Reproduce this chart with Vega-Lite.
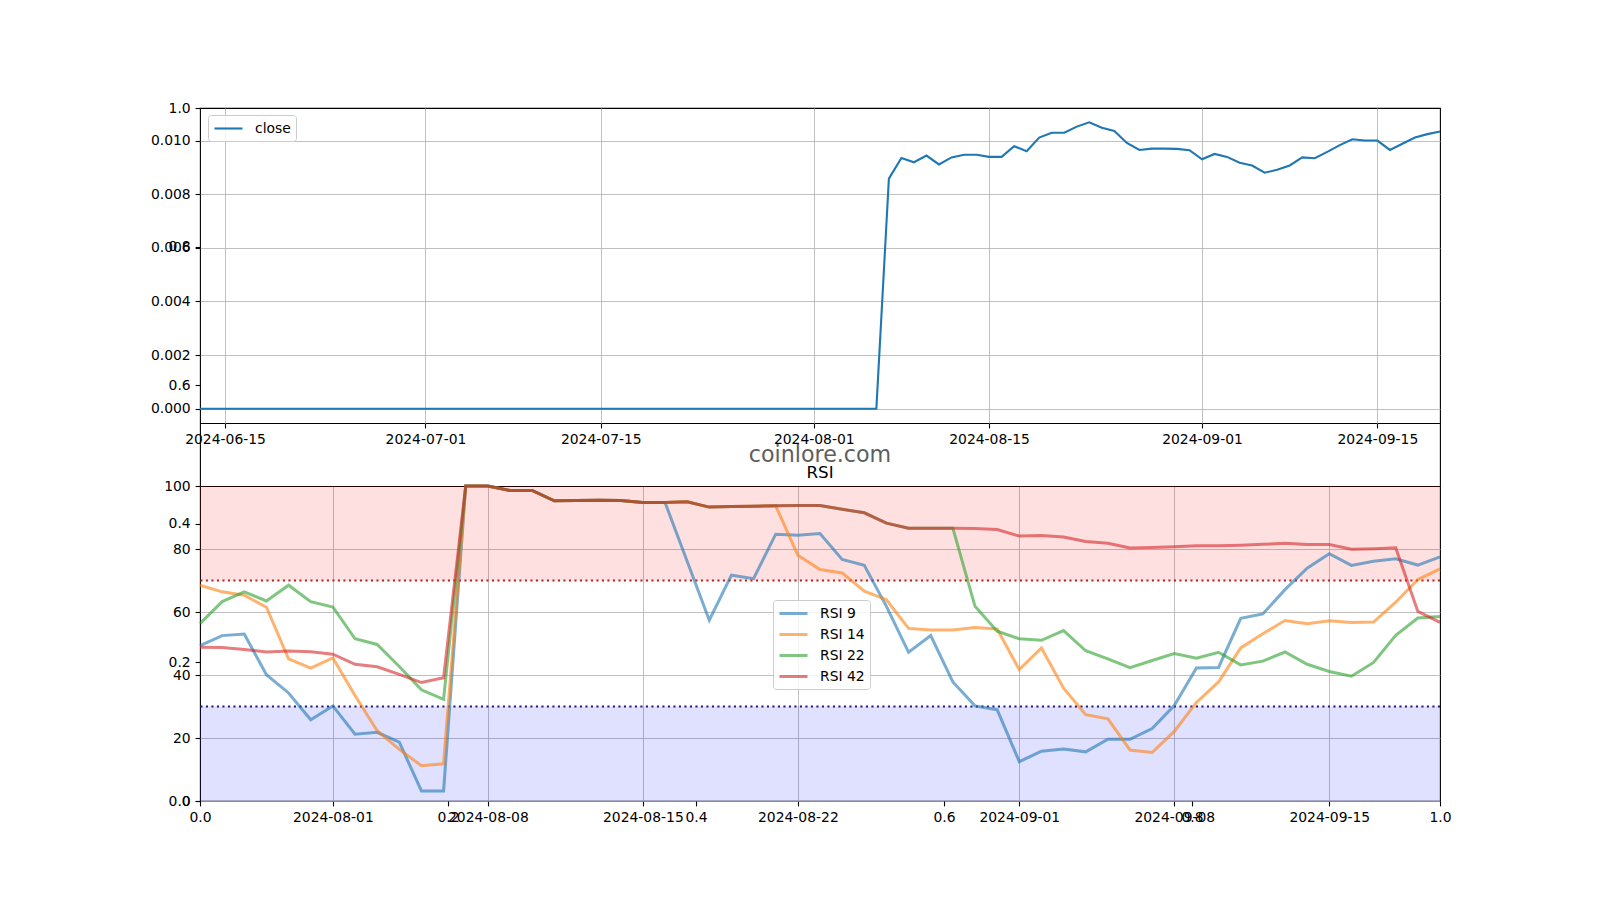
{
  "$schema": "https://vega.github.io/schema/vega-lite/v6.json",
  "width": 1240,
  "height": 693,
  "autosize": {"type": "none"},
  "padding": {"left": 200, "top": 108, "right": 160, "bottom": 99},
  "background": "white",
  "config": {
    "font": "DejaVu Sans",
    "view": {"stroke": "black", "strokeWidth": 1.1},
    "axis": {
      "labelFont": "DejaVu Sans", "labelFontSize": 13.9, "labelColor": "black",
      "tickColor": "black", "tickWidth": 1.1, "tickSize": 4.9, "labelPadding": 4.9,
      "gridColor": "#b0b0b0", "gridWidth": 0.8, "gridOpacity": 1,
      "domainColor": "black", "domainWidth": 1.1,
      "labelOverlap": false, "labelFlush": false, "labelBound": false, "title": null
    },
    "legend": {"labelFont": "DejaVu Sans", "labelFontSize": 13.9, "labelColor": "black"}
  },
  "datasets": {
    "close": [
      {"d":"2024-06-13","v":0},{"d":"2024-06-14","v":0},{"d":"2024-06-15","v":0},{"d":"2024-06-16","v":0},{"d":"2024-06-17","v":0},{"d":"2024-06-18","v":0},{"d":"2024-06-19","v":0},{"d":"2024-06-20","v":0},{"d":"2024-06-21","v":0},{"d":"2024-06-22","v":0},{"d":"2024-06-23","v":0},{"d":"2024-06-24","v":0},{"d":"2024-06-25","v":0},{"d":"2024-06-26","v":0},{"d":"2024-06-27","v":0},{"d":"2024-06-28","v":0},{"d":"2024-06-29","v":0},{"d":"2024-06-30","v":0},
      {"d":"2024-07-01","v":0},{"d":"2024-07-02","v":0},{"d":"2024-07-03","v":0},{"d":"2024-07-04","v":0},{"d":"2024-07-05","v":0},{"d":"2024-07-06","v":0},{"d":"2024-07-07","v":0},{"d":"2024-07-08","v":0},{"d":"2024-07-09","v":0},{"d":"2024-07-10","v":0},{"d":"2024-07-11","v":0},{"d":"2024-07-12","v":0},{"d":"2024-07-13","v":0},{"d":"2024-07-14","v":0},{"d":"2024-07-15","v":0},{"d":"2024-07-16","v":0},{"d":"2024-07-17","v":0},{"d":"2024-07-18","v":0},{"d":"2024-07-19","v":0},{"d":"2024-07-20","v":0},{"d":"2024-07-21","v":0},{"d":"2024-07-22","v":0},{"d":"2024-07-23","v":0},{"d":"2024-07-24","v":0},{"d":"2024-07-25","v":0},{"d":"2024-07-26","v":0},{"d":"2024-07-27","v":0},{"d":"2024-07-28","v":0},{"d":"2024-07-29","v":0},{"d":"2024-07-30","v":0},{"d":"2024-07-31","v":0},
      {"d":"2024-08-01","v":0},{"d":"2024-08-02","v":0},{"d":"2024-08-03","v":0},{"d":"2024-08-04","v":0},{"d":"2024-08-05","v":0},{"d":"2024-08-06","v":0},
      {"d":"2024-08-07","v":0.00858},{"d":"2024-08-08","v":0.00935},{"d":"2024-08-09","v":0.00919},{"d":"2024-08-10","v":0.00944},{"d":"2024-08-11","v":0.00911},{"d":"2024-08-12","v":0.00937},{"d":"2024-08-13","v":0.00947},{"d":"2024-08-14","v":0.00947},{"d":"2024-08-15","v":0.00939},{"d":"2024-08-16","v":0.00939},{"d":"2024-08-17","v":0.00979},{"d":"2024-08-18","v":0.0096},{"d":"2024-08-19","v":0.01011},{"d":"2024-08-20","v":0.01029},{"d":"2024-08-21","v":0.01029},{"d":"2024-08-22","v":0.01052},{"d":"2024-08-23","v":0.01068},{"d":"2024-08-24","v":0.01048},{"d":"2024-08-25","v":0.01036},{"d":"2024-08-26","v":0.00991},{"d":"2024-08-27","v":0.00965},{"d":"2024-08-28","v":0.0097},{"d":"2024-08-29","v":0.0097},{"d":"2024-08-30","v":0.00969},{"d":"2024-08-31","v":0.00964},
      {"d":"2024-09-01","v":0.0093},{"d":"2024-09-02","v":0.0095},{"d":"2024-09-03","v":0.00939},{"d":"2024-09-04","v":0.00917},{"d":"2024-09-05","v":0.00907},{"d":"2024-09-06","v":0.0088},{"d":"2024-09-07","v":0.00891},{"d":"2024-09-08","v":0.00907},{"d":"2024-09-09","v":0.00937},{"d":"2024-09-10","v":0.00934},{"d":"2024-09-11","v":0.00958},{"d":"2024-09-12","v":0.00983},{"d":"2024-09-13","v":0.01005},{"d":"2024-09-14","v":0.01},{"d":"2024-09-15","v":0.01},{"d":"2024-09-16","v":0.00965},{"d":"2024-09-17","v":0.00988},{"d":"2024-09-18","v":0.01011},{"d":"2024-09-19","v":0.01024},{"d":"2024-09-20","v":0.01034}
    ],
    "rsi": [
      {"d":"2024-07-26","s":"RSI 9","v":49.3},{"d":"2024-07-27","s":"RSI 9","v":52.5},{"d":"2024-07-28","s":"RSI 9","v":53.0},{"d":"2024-07-29","s":"RSI 9","v":40.1},{"d":"2024-07-30","s":"RSI 9","v":34.3},{"d":"2024-07-31","s":"RSI 9","v":25.8},{"d":"2024-08-01","s":"RSI 9","v":30.2},{"d":"2024-08-02","s":"RSI 9","v":21.2},{"d":"2024-08-03","s":"RSI 9","v":21.8},{"d":"2024-08-04","s":"RSI 9","v":18.7},{"d":"2024-08-05","s":"RSI 9","v":3.2},{"d":"2024-08-06","s":"RSI 9","v":3.2},{"d":"2024-08-07","s":"RSI 9","v":100},{"d":"2024-08-08","s":"RSI 9","v":100},{"d":"2024-08-09","s":"RSI 9","v":98.6},{"d":"2024-08-10","s":"RSI 9","v":98.6},{"d":"2024-08-11","s":"RSI 9","v":95.3},{"d":"2024-08-12","s":"RSI 9","v":95.4},{"d":"2024-08-13","s":"RSI 9","v":95.5},{"d":"2024-08-14","s":"RSI 9","v":95.4},{"d":"2024-08-15","s":"RSI 9","v":94.8},{"d":"2024-08-16","s":"RSI 9","v":94.8},{"d":"2024-08-17","s":"RSI 9","v":76.1},{"d":"2024-08-18","s":"RSI 9","v":57.4},{"d":"2024-08-19","s":"RSI 9","v":71.7},{"d":"2024-08-20","s":"RSI 9","v":70.6},{"d":"2024-08-21","s":"RSI 9","v":84.7},{"d":"2024-08-22","s":"RSI 9","v":84.4},{"d":"2024-08-23","s":"RSI 9","v":84.9},{"d":"2024-08-24","s":"RSI 9","v":76.7},{"d":"2024-08-25","s":"RSI 9","v":74.8},{"d":"2024-08-26","s":"RSI 9","v":61.8},{"d":"2024-08-27","s":"RSI 9","v":47.2},{"d":"2024-08-28","s":"RSI 9","v":52.5},{"d":"2024-08-29","s":"RSI 9","v":37.8},{"d":"2024-08-30","s":"RSI 9","v":30.2},{"d":"2024-08-31","s":"RSI 9","v":29.0},{"d":"2024-09-01","s":"RSI 9","v":12.5},{"d":"2024-09-02","s":"RSI 9","v":15.8},{"d":"2024-09-03","s":"RSI 9","v":16.5},{"d":"2024-09-04","s":"RSI 9","v":15.6},{"d":"2024-09-05","s":"RSI 9","v":19.6},{"d":"2024-09-06","s":"RSI 9","v":19.6},{"d":"2024-09-07","s":"RSI 9","v":23.0},{"d":"2024-09-08","s":"RSI 9","v":30.3},{"d":"2024-09-09","s":"RSI 9","v":42.2},{"d":"2024-09-10","s":"RSI 9","v":42.4},{"d":"2024-09-11","s":"RSI 9","v":58.0},{"d":"2024-09-12","s":"RSI 9","v":59.4},{"d":"2024-09-13","s":"RSI 9","v":67.1},{"d":"2024-09-14","s":"RSI 9","v":73.9},{"d":"2024-09-15","s":"RSI 9","v":78.5},{"d":"2024-09-16","s":"RSI 9","v":74.8},{"d":"2024-09-17","s":"RSI 9","v":76.1},{"d":"2024-09-18","s":"RSI 9","v":76.9},{"d":"2024-09-19","s":"RSI 9","v":74.9},{"d":"2024-09-20","s":"RSI 9","v":77.5},
      {"d":"2024-07-26","s":"RSI 14","v":68.5},{"d":"2024-07-27","s":"RSI 14","v":66.4},{"d":"2024-07-28","s":"RSI 14","v":65.3},{"d":"2024-07-29","s":"RSI 14","v":61.5},{"d":"2024-07-30","s":"RSI 14","v":45.1},{"d":"2024-07-31","s":"RSI 14","v":42.2},{"d":"2024-08-01","s":"RSI 14","v":45.4},{"d":"2024-08-02","s":"RSI 14","v":33.5},{"d":"2024-08-03","s":"RSI 14","v":22.3},{"d":"2024-08-04","s":"RSI 14","v":16.4},{"d":"2024-08-05","s":"RSI 14","v":11.2},{"d":"2024-08-06","s":"RSI 14","v":11.8},{"d":"2024-08-07","s":"RSI 14","v":100},{"d":"2024-08-08","s":"RSI 14","v":100},{"d":"2024-08-09","s":"RSI 14","v":98.6},{"d":"2024-08-10","s":"RSI 14","v":98.6},{"d":"2024-08-11","s":"RSI 14","v":95.3},{"d":"2024-08-12","s":"RSI 14","v":95.4},{"d":"2024-08-13","s":"RSI 14","v":95.5},{"d":"2024-08-14","s":"RSI 14","v":95.4},{"d":"2024-08-15","s":"RSI 14","v":94.8},{"d":"2024-08-16","s":"RSI 14","v":94.8},{"d":"2024-08-17","s":"RSI 14","v":95.0},{"d":"2024-08-18","s":"RSI 14","v":93.3},{"d":"2024-08-19","s":"RSI 14","v":93.5},{"d":"2024-08-20","s":"RSI 14","v":93.6},{"d":"2024-08-21","s":"RSI 14","v":93.7},{"d":"2024-08-22","s":"RSI 14","v":78.0},{"d":"2024-08-23","s":"RSI 14","v":73.5},{"d":"2024-08-24","s":"RSI 14","v":72.4},{"d":"2024-08-25","s":"RSI 14","v":66.6},{"d":"2024-08-26","s":"RSI 14","v":63.9},{"d":"2024-08-27","s":"RSI 14","v":54.8},{"d":"2024-08-28","s":"RSI 14","v":54.3},{"d":"2024-08-29","s":"RSI 14","v":54.3},{"d":"2024-08-30","s":"RSI 14","v":55.1},{"d":"2024-08-31","s":"RSI 14","v":54.6},{"d":"2024-09-01","s":"RSI 14","v":41.7},{"d":"2024-09-02","s":"RSI 14","v":48.6},{"d":"2024-09-03","s":"RSI 14","v":35.8},{"d":"2024-09-04","s":"RSI 14","v":27.4},{"d":"2024-09-05","s":"RSI 14","v":26.1},{"d":"2024-09-06","s":"RSI 14","v":16.2},{"d":"2024-09-07","s":"RSI 14","v":15.4},{"d":"2024-09-08","s":"RSI 14","v":22.1},{"d":"2024-09-09","s":"RSI 14","v":31.3},{"d":"2024-09-10","s":"RSI 14","v":37.8},{"d":"2024-09-11","s":"RSI 14","v":48.6},{"d":"2024-09-12","s":"RSI 14","v":53.1},{"d":"2024-09-13","s":"RSI 14","v":57.3},{"d":"2024-09-14","s":"RSI 14","v":56.3},{"d":"2024-09-15","s":"RSI 14","v":57.2},{"d":"2024-09-16","s":"RSI 14","v":56.7},{"d":"2024-09-17","s":"RSI 14","v":56.8},{"d":"2024-09-18","s":"RSI 14","v":63.1},{"d":"2024-09-19","s":"RSI 14","v":70.3},{"d":"2024-09-20","s":"RSI 14","v":73.7},
      {"d":"2024-07-26","s":"RSI 22","v":56.3},{"d":"2024-07-27","s":"RSI 22","v":63.3},{"d":"2024-07-28","s":"RSI 22","v":66.4},{"d":"2024-07-29","s":"RSI 22","v":63.5},{"d":"2024-07-30","s":"RSI 22","v":68.5},{"d":"2024-07-31","s":"RSI 22","v":63.3},{"d":"2024-08-01","s":"RSI 22","v":61.6},{"d":"2024-08-02","s":"RSI 22","v":51.5},{"d":"2024-08-03","s":"RSI 22","v":49.7},{"d":"2024-08-04","s":"RSI 22","v":42.7},{"d":"2024-08-05","s":"RSI 22","v":35.3},{"d":"2024-08-06","s":"RSI 22","v":32.3},{"d":"2024-08-07","s":"RSI 22","v":100},{"d":"2024-08-08","s":"RSI 22","v":100},{"d":"2024-08-09","s":"RSI 22","v":98.6},{"d":"2024-08-10","s":"RSI 22","v":98.6},{"d":"2024-08-11","s":"RSI 22","v":95.3},{"d":"2024-08-12","s":"RSI 22","v":95.4},{"d":"2024-08-13","s":"RSI 22","v":95.5},{"d":"2024-08-14","s":"RSI 22","v":95.4},{"d":"2024-08-15","s":"RSI 22","v":94.8},{"d":"2024-08-16","s":"RSI 22","v":94.8},{"d":"2024-08-17","s":"RSI 22","v":95.0},{"d":"2024-08-18","s":"RSI 22","v":93.3},{"d":"2024-08-19","s":"RSI 22","v":93.5},{"d":"2024-08-20","s":"RSI 22","v":93.6},{"d":"2024-08-21","s":"RSI 22","v":93.7},{"d":"2024-08-22","s":"RSI 22","v":93.8},{"d":"2024-08-23","s":"RSI 22","v":93.8},{"d":"2024-08-24","s":"RSI 22","v":92.6},{"d":"2024-08-25","s":"RSI 22","v":91.5},{"d":"2024-08-26","s":"RSI 22","v":88.2},{"d":"2024-08-27","s":"RSI 22","v":86.6},{"d":"2024-08-28","s":"RSI 22","v":86.6},{"d":"2024-08-29","s":"RSI 22","v":86.6},{"d":"2024-08-30","s":"RSI 22","v":61.8},{"d":"2024-08-31","s":"RSI 22","v":53.9},{"d":"2024-09-01","s":"RSI 22","v":51.5},{"d":"2024-09-02","s":"RSI 22","v":51.0},{"d":"2024-09-03","s":"RSI 22","v":54.1},{"d":"2024-09-04","s":"RSI 22","v":47.7},{"d":"2024-09-05","s":"RSI 22","v":45.1},{"d":"2024-09-06","s":"RSI 22","v":42.3},{"d":"2024-09-07","s":"RSI 22","v":44.6},{"d":"2024-09-08","s":"RSI 22","v":46.8},{"d":"2024-09-09","s":"RSI 22","v":45.3},{"d":"2024-09-10","s":"RSI 22","v":47.2},{"d":"2024-09-11","s":"RSI 22","v":43.2},{"d":"2024-09-12","s":"RSI 22","v":44.4},{"d":"2024-09-13","s":"RSI 22","v":47.3},{"d":"2024-09-14","s":"RSI 22","v":43.4},{"d":"2024-09-15","s":"RSI 22","v":41.1},{"d":"2024-09-16","s":"RSI 22","v":39.6},{"d":"2024-09-17","s":"RSI 22","v":44.0},{"d":"2024-09-18","s":"RSI 22","v":52.6},{"d":"2024-09-19","s":"RSI 22","v":58.1},{"d":"2024-09-20","s":"RSI 22","v":58.6},
      {"d":"2024-07-26","s":"RSI 42","v":48.8},{"d":"2024-07-27","s":"RSI 42","v":48.7},{"d":"2024-07-28","s":"RSI 42","v":48.1},{"d":"2024-07-29","s":"RSI 42","v":47.3},{"d":"2024-07-30","s":"RSI 42","v":47.6},{"d":"2024-07-31","s":"RSI 42","v":47.4},{"d":"2024-08-01","s":"RSI 42","v":46.6},{"d":"2024-08-02","s":"RSI 42","v":43.4},{"d":"2024-08-03","s":"RSI 42","v":42.6},{"d":"2024-08-04","s":"RSI 42","v":40.2},{"d":"2024-08-05","s":"RSI 42","v":37.6},{"d":"2024-08-06","s":"RSI 42","v":39.1},{"d":"2024-08-07","s":"RSI 42","v":100},{"d":"2024-08-08","s":"RSI 42","v":100},{"d":"2024-08-09","s":"RSI 42","v":98.6},{"d":"2024-08-10","s":"RSI 42","v":98.6},{"d":"2024-08-11","s":"RSI 42","v":95.3},{"d":"2024-08-12","s":"RSI 42","v":95.4},{"d":"2024-08-13","s":"RSI 42","v":95.5},{"d":"2024-08-14","s":"RSI 42","v":95.4},{"d":"2024-08-15","s":"RSI 42","v":94.8},{"d":"2024-08-16","s":"RSI 42","v":94.8},{"d":"2024-08-17","s":"RSI 42","v":95.0},{"d":"2024-08-18","s":"RSI 42","v":93.3},{"d":"2024-08-19","s":"RSI 42","v":93.5},{"d":"2024-08-20","s":"RSI 42","v":93.6},{"d":"2024-08-21","s":"RSI 42","v":93.7},{"d":"2024-08-22","s":"RSI 42","v":93.8},{"d":"2024-08-23","s":"RSI 42","v":93.8},{"d":"2024-08-24","s":"RSI 42","v":92.6},{"d":"2024-08-25","s":"RSI 42","v":91.5},{"d":"2024-08-26","s":"RSI 42","v":88.2},{"d":"2024-08-27","s":"RSI 42","v":86.6},{"d":"2024-08-28","s":"RSI 42","v":86.6},{"d":"2024-08-29","s":"RSI 42","v":86.6},{"d":"2024-08-30","s":"RSI 42","v":86.5},{"d":"2024-08-31","s":"RSI 42","v":86.2},{"d":"2024-09-01","s":"RSI 42","v":84.1},{"d":"2024-09-02","s":"RSI 42","v":84.3},{"d":"2024-09-03","s":"RSI 42","v":83.8},{"d":"2024-09-04","s":"RSI 42","v":82.4},{"d":"2024-09-05","s":"RSI 42","v":81.8},{"d":"2024-09-06","s":"RSI 42","v":80.3},{"d":"2024-09-07","s":"RSI 42","v":80.5},{"d":"2024-09-08","s":"RSI 42","v":80.7},{"d":"2024-09-09","s":"RSI 42","v":81.0},{"d":"2024-09-10","s":"RSI 42","v":81.0},{"d":"2024-09-11","s":"RSI 42","v":81.2},{"d":"2024-09-12","s":"RSI 42","v":81.5},{"d":"2024-09-13","s":"RSI 42","v":81.8},{"d":"2024-09-14","s":"RSI 42","v":81.4},{"d":"2024-09-15","s":"RSI 42","v":81.4},{"d":"2024-09-16","s":"RSI 42","v":79.9},{"d":"2024-09-17","s":"RSI 42","v":80.1},{"d":"2024-09-18","s":"RSI 42","v":80.4},{"d":"2024-09-19","s":"RSI 42","v":60.2},{"d":"2024-09-20","s":"RSI 42","v":56.7}
    ]
  },
  "layer": [
    {
      "data": {"values": [{}]},
      "layer": [
        {
          "mark": {"type": "point", "opacity": 0},
          "encoding": {
            "x": {"datum": 0, "type": "quantitative", "scale": {"domain": [0, 1], "nice": false, "zero": false},
                  "axis": {"orient": "bottom", "values": [0, 0.2, 0.4, 0.6, 0.8, 1.0], "format": ".1f", "grid": false, "domain": false}},
            "y": {"datum": 0, "type": "quantitative", "scale": {"domain": [0, 1], "nice": false, "zero": false},
                  "axis": {"orient": "left", "values": [0, 0.2, 0.4, 0.6, 0.8, 1.0], "format": ".1f", "grid": false, "domain": false}}
          }
        },
        {
          "mark": {"type": "text", "text": "coinlore.com", "font": "DejaVu Sans", "fontSize": 22.2, "color": "#5e5e5e", "align": "center", "baseline": "middle"},
          "encoding": {"x": {"datum": 0.5, "type": "quantitative"}, "y": {"datum": 0.5, "type": "quantitative"}}
        },
        {
          "mark": {"type": "text", "text": "RSI", "font": "DejaVu Sans", "fontSize": 16.7, "color": "black", "align": "center", "baseline": "alphabetic"},
          "encoding": {"x": {"datum": 0.5, "type": "quantitative"}, "y": {"datum": 0.4665, "type": "quantitative"}}
        }
      ]
    },
    {
      "data": {"name": "close"},
      "mark": {"type": "line", "strokeWidth": 2.1},
      "encoding": {
        "x": {"field": "d", "type": "temporal",
              "scale": {"type": "utc", "domain": [{"year": 2024, "month": 6, "date": 13, "utc": true}, {"year": 2024, "month": 9, "date": 20, "utc": true}], "nice": false},
              "axis": {"orient": "bottom", "offset": -378, "format": "%Y-%m-%d", "grid": false, "domain": true,
                       "values": [{"year": 2024, "month": 6, "date": 15, "utc": true}, {"year": 2024, "month": 7, "date": 1, "utc": true}, {"year": 2024, "month": 7, "date": 15, "utc": true}, {"year": 2024, "month": 8, "date": 1, "utc": true}, {"year": 2024, "month": 8, "date": 15, "utc": true}, {"year": 2024, "month": 9, "date": 1, "utc": true}, {"year": 2024, "month": 9, "date": 15, "utc": true}]}},
        "y": {"field": "v", "type": "quantitative",
              "scale": {"domain": [-0.000534, 0.011214], "range": [315, 0], "nice": false, "zero": false},
              "axis": {"orient": "left", "values": [0, 0.002, 0.004, 0.006, 0.008, 0.01], "format": ".3f", "grid": true, "domain": false}},
        "color": {"datum": "close", "type": "nominal", "scale": {"domain": ["close"], "range": ["#1f77b4"]},
                  "legend": {"title": null, "orient": "none", "legendX": 8, "legendY": 7, "symbolType": "M-1,0H3", "symbolSize": 196, "symbolStrokeWidth": 2.1, "labelOffset": 25, "padding": 5, "strokeColor": "#cccccc", "fillColor": "rgba(255,255,255,0.8)", "cornerRadius": 3}}
      }
    },
    {
      "data": {"values": [{}]},
      "mark": {"type": "rule", "opacity": 0},
      "encoding": {
        "x": {"datum": {"year": 2024, "month": 7, "date": 1, "utc": true}, "type": "temporal",
              "scale": {"type": "utc", "domain": [{"year": 2024, "month": 6, "date": 13, "utc": true}, {"year": 2024, "month": 9, "date": 20, "utc": true}], "nice": false},
              "axis": {"orient": "bottom", "offset": -378, "grid": false, "domain": false, "labels": false, "tickSize": -315, "tickColor": "#b0b0b0", "tickWidth": 0.8,
                       "values": [{"year": 2024, "month": 6, "date": 15, "utc": true}, {"year": 2024, "month": 7, "date": 1, "utc": true}, {"year": 2024, "month": 7, "date": 15, "utc": true}, {"year": 2024, "month": 8, "date": 1, "utc": true}, {"year": 2024, "month": 8, "date": 15, "utc": true}, {"year": 2024, "month": 9, "date": 1, "utc": true}, {"year": 2024, "month": 9, "date": 15, "utc": true}]}}
      }
    },
    {
      "layer": [
        {
          "data": {"values": [{}]},
          "mark": {"type": "rect", "color": "red", "opacity": 0.12},
          "encoding": {
            "y": {"datum": 70, "type": "quantitative", "scale": {"domain": [0, 100], "range": [693, 378], "nice": false, "zero": false},
                  "axis": {"orient": "left", "values": [0, 20, 40, 60, 80, 100], "format": "d", "grid": true, "domain": false}},
            "y2": {"datum": 100}
          }
        },
        {
          "data": {"values": [{}]},
          "mark": {"type": "rect", "color": "blue", "opacity": 0.12},
          "encoding": {"y": {"datum": 0, "type": "quantitative"}, "y2": {"datum": 30}}
        },
        {
          "data": {"values": [{}]},
          "mark": {"type": "rule", "color": "#bb2222", "strokeWidth": 2.1, "strokeDash": [2.1, 3.4]},
          "encoding": {"y": {"datum": 70, "type": "quantitative"}}
        },
        {
          "data": {"values": [{}]},
          "mark": {"type": "rule", "color": "#1c1c80", "strokeWidth": 2.1, "strokeDash": [2.1, 3.4]},
          "encoding": {"y": {"datum": 30, "type": "quantitative"}}
        },
        {
          "data": {"name": "rsi"},
          "mark": {"type": "line", "strokeWidth": 3, "opacity": 0.6},
          "encoding": {
            "x": {"field": "d", "type": "temporal",
                  "scale": {"type": "utc", "domain": [{"year": 2024, "month": 7, "date": 26, "utc": true}, {"year": 2024, "month": 9, "date": 20, "utc": true}], "nice": false},
                  "axis": {"orient": "bottom", "format": "%Y-%m-%d", "grid": false, "domain": false,
                           "values": [{"year": 2024, "month": 8, "date": 1, "utc": true}, {"year": 2024, "month": 8, "date": 8, "utc": true}, {"year": 2024, "month": 8, "date": 15, "utc": true}, {"year": 2024, "month": 8, "date": 22, "utc": true}, {"year": 2024, "month": 9, "date": 1, "utc": true}, {"year": 2024, "month": 9, "date": 8, "utc": true}, {"year": 2024, "month": 9, "date": 15, "utc": true}]}},
            "y": {"field": "v", "type": "quantitative"},
            "color": {"field": "s", "type": "nominal", "sort": ["RSI 9", "RSI 14", "RSI 22", "RSI 42"],
                      "scale": {"domain": ["RSI 9", "RSI 14", "RSI 22", "RSI 42"], "range": ["#1f77b4", "#ff7f0e", "#2ca02c", "#d62728"]},
                      "legend": {"title": null, "orient": "none", "legendX": 573, "legendY": 492, "symbolType": "M-1,0H3", "symbolSize": 196, "symbolStrokeWidth": 3, "labelOffset": 25, "rowPadding": 5, "padding": 5, "strokeColor": "#cccccc", "fillColor": "rgba(255,255,255,0.8)", "cornerRadius": 3}}
          }
        }
      ]
    },
    {
      "data": {"values": [{}]},
      "mark": {"type": "rule", "opacity": 0},
      "encoding": {
        "x": {"datum": {"year": 2024, "month": 8, "date": 1, "utc": true}, "type": "temporal",
              "scale": {"type": "utc", "domain": [{"year": 2024, "month": 7, "date": 26, "utc": true}, {"year": 2024, "month": 9, "date": 20, "utc": true}], "nice": false},
              "axis": {"orient": "top", "offset": -378, "grid": false, "domain": true, "labels": false, "tickSize": -315, "tickColor": "#b0b0b0", "tickWidth": 0.8,
                       "values": [{"year": 2024, "month": 8, "date": 1, "utc": true}, {"year": 2024, "month": 8, "date": 8, "utc": true}, {"year": 2024, "month": 8, "date": 15, "utc": true}, {"year": 2024, "month": 8, "date": 22, "utc": true}, {"year": 2024, "month": 9, "date": 1, "utc": true}, {"year": 2024, "month": 9, "date": 8, "utc": true}, {"year": 2024, "month": 9, "date": 15, "utc": true}]}}
      }
    }
  ],
  "resolve": {
    "scale": {"x": "independent", "y": "independent", "color": "independent"},
    "axis": {"x": "independent", "y": "independent"},
    "legend": {"color": "independent"}
  }
}
